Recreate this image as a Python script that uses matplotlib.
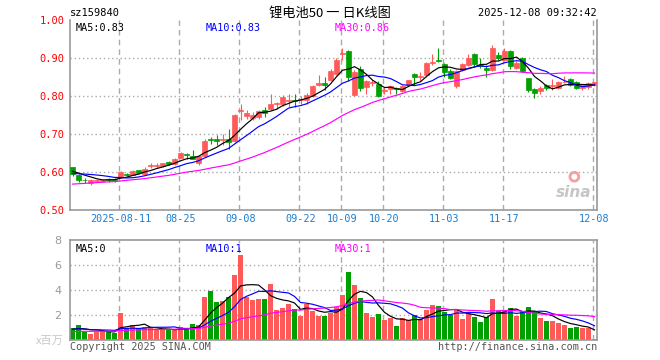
import matplotlib
matplotlib.use('Agg')
import matplotlib.pyplot as plt
import numpy as np
import pandas as pd

# daily OHLC, 2025-07-30 .. 2025-12-08
opens = [.613, .593, .579, .571, .577, .576, .581, .581, .588, .594, .593, .604, .594, .616, .617, .616, .626, .620, .637, .646,
         .641, .624, .643, .686, .688, .684, .688, .682, .760, .747, .743, .744, .764, .765, .778, .780, .788, .790, .790, .789,
         .800, .828, .834, .842, .858, .910, .918, .802, .872, .824, .833, .832, .812, .818, .820, .812, .830, .859, .850, .854,
         .886, .896, .883, .866, .826, .868, .882, .911, .882, .875, .868, .909, .894, .918, .875, .900, .847, .818, .812, .830,
         .826, .822, .836, .844, .836, .820, .824, .828]
highs = [.614, .594, .583, .581, .582, .581, .584, .583, .602, .597, .605, .605, .612, .624, .624, .625, .630, .636, .652, .649,
         .658, .643, .688, .692, .698, .699, .714, .752, .780, .764, .758, .762, .771, .804, .784, .802, .806, .804, .799, .808,
         .828, .854, .850, .872, .899, .926, .920, .868, .878, .842, .841, .839, .823, .828, .824, .828, .843, .860, .863, .889,
         .911, .926, .888, .870, .869, .886, .910, .914, .900, .881, .935, .916, .926, .920, .891, .903, .848, .821, .826, .832,
         .844, .840, .853, .847, .839, .830, .837, .838]
lows = [.590, .574, .570, .567, .574, .573, .574, .575, .585, .589, .591, .596, .592, .610, .610, .614, .618, .618, .636, .635,
        .633, .618, .640, .673, .670, .670, .661, .678, .736, .740, .738, .739, .745, .763, .767, .773, .771, .771, .780, .780,
        .797, .826, .815, .840, .855, .894, .839, .800, .812, .806, .826, .797, .806, .806, .804, .810, .828, .828, .839, .850,
        .882, .889, .850, .845, .820, .866, .880, .876, .874, .850, .865, .896, .891, .872, .872, .863, .811, .795, .806, .815,
        .815, .818, .833, .826, .818, .815, .818, .826]
closes = [.596, .578, .578, .580, .580, .580, .579, .580, .600, .592, .603, .597, .609, .618, .618, .624, .620, .635, .650, .645,
          .635, .641, .682, .684, .682, .686, .680, .749, .764, .755, .751, .760, .756, .778, .781, .797, .790, .786, .793, .802,
          .826, .835, .830, .866, .896, .912, .850, .862, .822, .839, .836, .800, .815, .826, .818, .826, .841, .850, .852, .888,
          .890, .891, .862, .847, .866, .883, .901, .885, .880, .868, .926, .901, .918, .879, .888, .866, .815, .809, .821, .821,
          .828, .838, .838, .828, .820, .828, .834, .836]
# volume in millions
volumes = [.98, 1.2, .67, .48, .67, .75, .75, .59, 2.19, .98, 1.2, .93, 1.04, .93, .8, .8, .8, .8, 1.07, .85,
           1.3, 1.2, 3.45, 3.93, 3.05, 3.12, 3.43, 5.22, 6.8, 3.48, 3.2, 3.29, 3.29, 4.5, 2.4, 2.55, 2.9, 2.47, 1.95, 2.9,
           2.35, 1.95, 1.95, 2.2, 2.67, 3.6, 5.44, 4.4, 3.36, 2.16, 1.87, 2.08, 1.6, 1.79, 1.12, 1.73, 1.6, 2.0, 1.65, 2.4,
           2.77, 2.72, 2.27, 2.0, 2.45, 1.68, 2.13, 1.87, 1.44, 1.81, 3.28, 2.32, 2.32, 2.53, 1.92, 2.21, 2.64, 2.27, 1.76, 1.52,
           1.52, 1.33, 1.23, .99, 1.04, .96, .96, .1]

# earlier sessions (not drawn), only needed so the moving averages start right
pre_closes = [.548, .551, .546, .553, .549, .552, .556, .550, .548, .553, .555, .558, .554, .557, .560, .556, .553, .558, .562, .566,
              .582, .588, .590, .594, .596, .601, .605, .603, .604]
pre_volumes = [.55, .62, .50, .58, .66, .52, .60, .57, .54, .63, .59, .55, .61, .58, .52, .60, .62, .56, .59, .64,
               .80, .92, .85, .78, .90, .86, .78, .84, .80]

tick_idx = [8, 18, 28, 38, 45, 52, 62, 72, 87]
tick_labels = ['2025-08-11', '08-25', '09-08', '09-22', '10-09', '10-20', '11-03', '11-17', '12-08']

RED = '#ff5a5a'
GREEN = '#00a000'
GRID = '#aaaaaa'
MONO = 'DejaVu Sans Mono'
CJK = ['Noto Sans CJK SC', 'DejaVu Sans']

n = len(closes)
x = np.arange(n)
o = np.array(opens); h = np.array(highs); l = np.array(lows); c = np.array(closes)
up = c >= o
cols = np.where(up, RED, GREEN)

def ma(pre, vals, w):
    s = pd.Series(list(pre) + list(vals))
    return s.rolling(w, min_periods=1).mean().values[len(pre):]

pma = {w: ma(pre_closes, closes, w) for w in (5, 10, 30)}
vma = {w: ma(pre_volumes, volumes, w) for w in (5, 10, 30)}
ma_cols = {5: 'black', 10: '#0000ff', 30: '#ff00ff'}

W, H = 660, 360
fig = plt.figure(figsize=(6.6, 3.6), dpi=100)

def fx(px): return px / W
def fy(py): return 1 - py / H

ax = fig.add_axes([fx(70), fy(210), (597 - 70) / W, 190 / H])
axv = fig.add_axes([fx(70), fy(340), (597 - 70) / W, 100 / H])

xl = (-0.42, n - 1 + 0.42)
for a in (ax, axv):
    a.set_xlim(*xl)
    for s in a.spines.values():
        s.set_color('#999999')
        s.set_linewidth(1.2)
    for t in tick_idx:
        a.axvline(t - 0.3, color=GRID, lw=1, ls=(0, (4, 3)), zorder=0)
    a.tick_params(length=0)

ax.spines['top'].set_visible(False)

# price panel
ax.set_ylim(0.5, 1.0)
for yv in (0.6, 0.7, 0.8, 0.9):
    ax.axhline(yv, color=GRID, lw=1, ls=(0, (1, 2)), zorder=0)
ax.vlines(x, l, h, colors=cols, lw=0.8, zorder=2)
body = np.maximum(np.abs(c - o), 0.0012)
ax.bar(x, body, bottom=np.minimum(o, c), width=0.75, color=cols, edgecolor=cols, lw=0.5, zorder=3)
for w in (5, 10, 30):
    ax.plot(x, pma[w], color=ma_cols[w], lw=0.85, zorder=4)

ax.set_yticks([0.5, 0.6, 0.7, 0.8, 0.9, 1.0])
ax.set_yticklabels(['%.2f' % v for v in [0.5, 0.6, 0.7, 0.8, 0.9, 1.0]],
                   family=MONO, fontsize=7.5, color='#ff0000')
ax.tick_params(axis='y', pad=4)
ax.set_xticks(tick_idx)
ax.set_xticklabels(tick_labels, family=MONO, fontsize=7.3, color='#1a7fd4')
ax.tick_params(axis='x', pad=3)

ax.text(0.01, 0.985, 'MA5:%.2f' % pma[5][-1], transform=ax.transAxes, va='top', ha='left',
        family=MONO, fontsize=7.3, color='black')
ax.text(0.257, 0.985, 'MA10:%.2f' % pma[10][-1], transform=ax.transAxes, va='top', ha='left',
        family=MONO, fontsize=7.3, color='#0000ff')
ax.text(0.503, 0.985, 'MA30:%.2f' % pma[30][-1], transform=ax.transAxes, va='top', ha='left',
        family=MONO, fontsize=7.3, color='#ff00ff')

# sina watermark
ax.text(0.955, 0.09, 'sina', transform=ax.transAxes, ha='center', va='center', fontsize=11,
        fontweight='bold', style='italic', color='#b8b8b8', alpha=0.8, zorder=1)
ax.scatter([0.957], [0.175], s=40, transform=ax.transAxes, facecolors='none',
           edgecolors='#f4a0a0', linewidths=2, zorder=1)

# volume panel
axv.set_ylim(0, 8)
for yv in (2, 4, 6):
    axv.axhline(yv, color=GRID, lw=1, ls=(0, (1, 2)), zorder=0)
axv.bar(x, volumes, width=0.8, color=cols, zorder=2)
for w in (5, 10, 30):
    axv.plot(x, vma[w], color=ma_cols[w], lw=0.85, zorder=4)
axv.set_yticks([2, 4, 6, 8])
axv.set_yticklabels(['2', '4', '6', '8'], fontsize=8, color='#999999')
axv.tick_params(axis='y', pad=6)
axv.set_xticks([])

axv.text(0.01, 0.965, 'MA5:%d' % int(vma[5][-1]), transform=axv.transAxes, va='top', ha='left',
         family=MONO, fontsize=7.3, color='black')
axv.text(0.257, 0.965, 'MA10:%d' % int(vma[10][-1]), transform=axv.transAxes, va='top', ha='left',
         family=MONO, fontsize=7.3, color='#0000ff')
axv.text(0.503, 0.965, 'MA30:%d' % int(vma[30][-1]), transform=axv.transAxes, va='top', ha='left',
         family=MONO, fontsize=7.3, color='#ff00ff')

# header / footer text
fig.text(fx(70), fy(13), 'sz159840', family=MONO, fontsize=7.5, color='black', ha='left', va='center')
fig.text(fx(330), fy(13), '锂电池50 一 日K线图', family=CJK, fontsize=9.5, color='black',
         ha='center', va='center')
fig.text(fx(597), fy(13), '2025-12-08 09:32:42', family=MONO, fontsize=7.5, color='black',
         ha='right', va='center')
fig.text(fx(64), fy(341), 'x百万', family=CJK, fontsize=8, color='#c8c8c8', ha='right', va='center')
fig.text(fx(70), fy(347), 'Copyright 2025 SINA.COM', family=MONO, fontsize=7.3, color='#555555',
         ha='left', va='center')
fig.text(fx(597), fy(347), 'http://finance.sina.com.cn', family=MONO, fontsize=7.3, color='#555555',
         ha='right', va='center')

fig.savefig('out.png', dpi=100)
